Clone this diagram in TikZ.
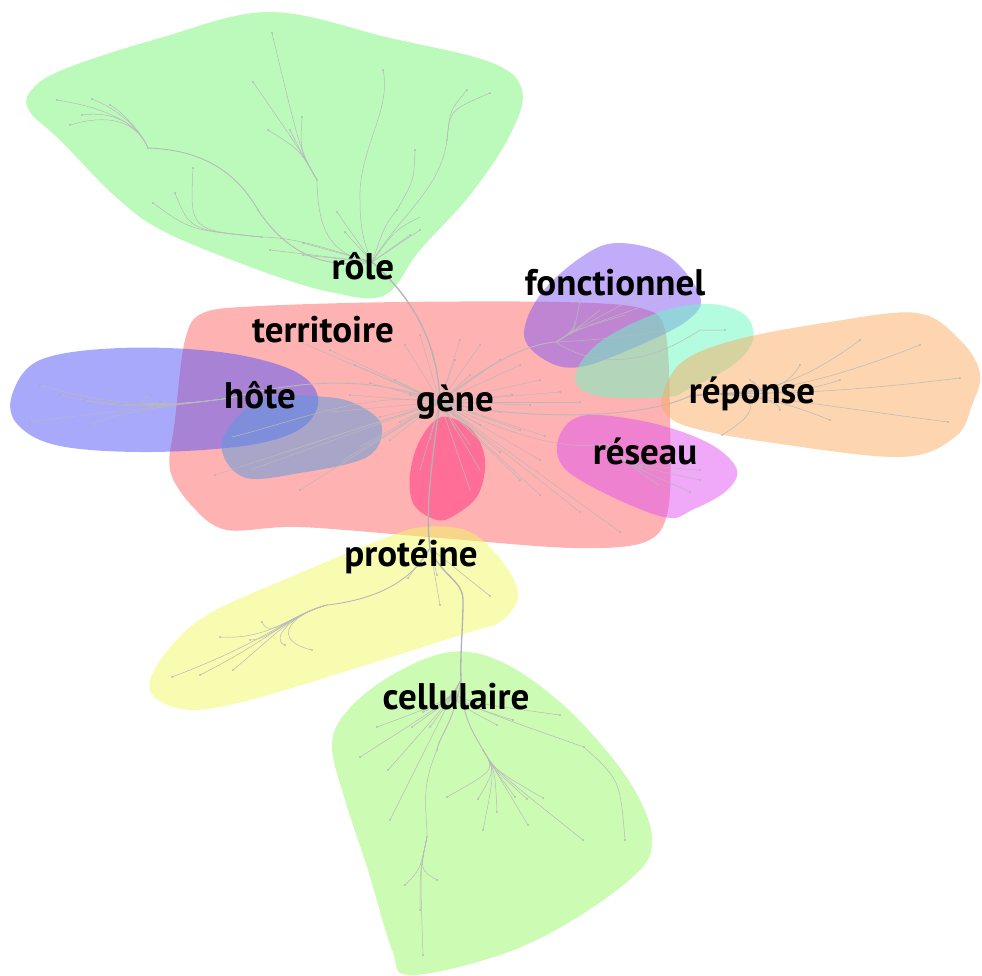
\documentclass[tikz,border=0pt]{standalone}
\usepackage{fontspec}
\setmainfont{PT Sans}
\definecolor{cRole}{RGB}{188,250,188}
\definecolor{cTerr}{RGB}{255,178,178}
\definecolor{cHote}{RGB}{83,83,247}
\definecolor{cGrey}{RGB}{85,154,224}
\definecolor{cPink}{RGB}{255,44,124}
\definecolor{cFonc}{RGB}{131,89,243}
\definecolor{cMint}{RGB}{105,249,193}
\definecolor{cRep}{RGB}{251,171,97}
\definecolor{cRes}{RGB}{225,81,241}
\definecolor{cProt}{RGB}{241,249,97}
\definecolor{cCell}{RGB}{204,252,180}
\tikzset{
  blob/.style={fill=#1, draw=none},
  tblob/.style={fill=#1, fill opacity=0.5, draw=none},
  edge/.style={draw=gray!55, line width=0.5pt},
  trunk/.style={draw=gray!60, line width=1.3pt},
  dot/.style={circle, fill=gray!70, inner sep=0pt, minimum size=1.6pt},
  lab/.style={font=\fontsize{37}{40}\selectfont\bfseries, text=black, inner sep=0pt}
}
\begin{document}
\begin{tikzpicture}[x=1pt,y=-1pt]
\useasboundingbox (0,0) rectangle (982,975);
% ---- blobs ----
\fill[blob=cRole] plot[smooth cycle, tension=0.6] coordinates {(30,92) (62,70) (160,38) (270,12) (390,38) (490,62) (522,90) (510,135) (470,195) (420,250) (385,295) (335,293) (267,273) (167,233) (117,198) (60,140) (30,112)};
\fill[blob=cCell] plot[smooth cycle, tension=0.6] coordinates {(332,745) (348,710) (392,675) (450,652) (502,662) (560,702) (610,755) (640,800) (652,840) (638,872) (573,920) (500,955) (410,975) (392,950) (368,870) (345,800)};
\fill[blob=cTerr] plot[smooth cycle, tension=0.55] coordinates {(203,313) (260,306) (400,302) (560,302) (640,308) (665,330) (670,420) (668,510) (645,542) (573,548) (440,538) (300,527) (227,530) (193,507) (170,470) (175,420) (185,340)};
\fill[tblob=cHote] plot[smooth cycle, tension=0.6] coordinates {(12,395) (40,360) (120,348) (220,352) (292,370) (318,397) (303,427) (250,445) (150,452) (60,446) (18,425)};
\fill[tblob=cGrey] plot[smooth cycle, tension=0.6] coordinates {(222,442) (260,400) (327,397) (362,407) (382,427) (367,457) (300,473) (243,477)};
\fill[tblob=cPink] plot[smooth cycle, tension=0.6] coordinates {(410,475) (420,440) (442,417) (472,430) (485,460) (478,495) (455,515) (437,520) (414,505)};
\fill[tblob=cProt] plot[smooth cycle, tension=0.6] coordinates {(150,680) (172,645) (212,612) (300,573) (380,540) (423,527) (470,532) (505,565) (518,597) (500,622) (470,632) (350,670) (250,700) (193,710) (158,700)};
\fill[tblob=cFonc] plot[smooth cycle, tension=0.6] coordinates {(524,335) (540,295) (580,258) (617,243) (668,256) (700,296) (688,320) (640,345) (580,367) (545,360)};
\fill[tblob=cMint] plot[smooth cycle, tension=0.6] coordinates {(575,377) (600,342) (660,312) (710,304) (745,315) (753,340) (733,365) (690,388) (667,397) (598,396)};
\fill[tblob=cRep] plot[smooth cycle, tension=0.6] coordinates {(662,397) (682,362) (735,340) (830,322) (917,313) (960,340) (980,373) (972,405) (955,437) (900,457) (767,442) (693,428) (667,415)};
\fill[tblob=cRes] plot[smooth cycle, tension=0.6] coordinates {(558,440) (572,420) (600,415) (660,425) (712,445) (737,470) (725,492) (692,510) (670,518) (630,505) (580,480) (560,462)};

% ---- hubs ----
\coordinate (role) at (372,262);
\coordinate (gene) at (440,402);
\coordinate (prot) at (430,548);
\coordinate (grid) at (463,600);
\coordinate (cell) at (461,680);
\coordinate (hote) at (230,398);
\coordinate (fonc) at (556,342);
\coordinate (rep) at (690,396);
\coordinate (res) at (606,444);

% main trunk
\draw[trunk] (role) .. controls (415,300) and (438,345) .. (gene);
\draw[trunk] (gene) .. controls (432,460) and (425,510) .. (prot);
\draw[trunk] (prot) .. controls (440,575) and (463,580) .. (grid) .. controls (463,630) and (460,650) .. (cell);

% ---- rôle branches ----
\node[dot] (mol) at (148,148) {};
\node[dot] (prat) at (258,210) {};
\node[dot] (act) at (317,180) {};
\node[dot] (meta) at (447,140) {};
\node[dot] (degr) at (397,210) {};
\node[dot] (repr) at (262,237) {};
\draw[edge, line width=0.9pt] (mol) .. controls (200,150) and (235,170) .. (prat) .. controls (285,250) and (320,270) .. (role);
\foreach \p in {(57,100),(92,99),(110,105),(82,115),(70,125)}
  { \node[dot] at \p (m) {}; \draw[edge] \p .. controls (120,110) and (140,130) .. (mol); }
\draw[edge] (act) .. controls (318,230) and (330,255) .. (role);
\foreach \p in {(290,130),(302,117),(272,33),(253,82),(268,130)}
  { \node[dot] at \p {}; \draw[edge] \p .. controls (300,150) .. (act); }
\draw[edge] (383,70) .. controls (392,110) and (358,150) .. (360,200) .. controls (360,240) and (368,250) .. (role);
\node[dot] at (383,70) {};
\draw[edge] (meta) .. controls (440,190) and (400,215) .. (role);
\foreach \p in {(467,90),(490,93)} { \node[dot] at \p {}; \draw[edge] \p .. controls (450,110) .. (meta); }
\draw[edge] (415,150) .. controls (414,180) .. (degr);
\node[dot] at (415,150) {};
\draw[edge] (degr) .. controls (385,225) .. (role);
\draw[edge] (420,217) .. controls (395,230) .. (role);
\draw[edge] (repr) .. controls (300,238) and (330,250) .. (role);
\foreach \p in {(153,203),(175,193),(193,168)} { \node[dot] at \p {}; \draw[edge] \p .. controls (190,230) .. (repr); }
\foreach \p in {(270,250),(303,243),(303,255),(337,212),(345,232),(410,235),(420,230)} { \node[dot] at \p {}; \draw[edge] \p -- (role); }

% ---- gène radial edges ----
\foreach \p in {(300,342),(330,350),(355,365),(370,383),(395,380),(405,345),(420,335),(460,340),(480,345),(500,360),(520,365),(540,380),(560,392),(580,402),(530,405),(500,412),(520,430),(545,436),(540,460),(500,452),(480,470),(470,490),(420,470),(390,440),(360,447),(340,462),(380,417),(400,422),(330,412),(285,452),(250,470),(215,475),(300,490),(520,480),(540,495),(580,512),(620,532),(455,360),(470,375),(410,395),(480,425),(456,430),(430,440),(470,445),(512,395),(350,395)}
  { \node[dot] at \p {}; \draw[edge] (gene) -- \p; }

% long branches
\draw[edge, line width=0.9pt] (gene) .. controls (370,375) and (300,380) .. (hote);
\foreach \p in {(60,395),(85,400),(40,385),(30,422),(90,425),(150,395),(160,402)}
  { \node[dot] at \p {}; \draw[edge] (hote) .. controls (180,405) and (120,410) .. \p; }
\draw[edge] (gene) .. controls (370,390) and (300,420) .. (232,437);
\draw[edge, line width=0.9pt] (gene) .. controls (480,370) and (520,345) .. (fonc);
\foreach \p in {(580,300),(600,310),(625,315),(640,295),(670,297),(575,320)}
  { \node[dot] at \p {}; \draw[edge] (fonc) .. controls (575,330) .. \p; }
\draw[edge] (fonc) .. controls (600,340) and (640,335) .. (665,330);
\draw[edge] (fonc) .. controls (590,365) and (640,370) .. (700,330) -- (725,330);
\node[dot] at (725,330) {};
\draw[edge, line width=0.9pt] (gene) .. controls (520,420) and (640,420) .. (rep);
\foreach \p in {(860,340),(920,345),(960,378),(948,422),(830,420),(780,410),(722,435),(800,365),(840,380),(750,380)}
  { \node[dot] at \p {}; \draw[edge] (rep) .. controls (740,390) and (780,400) .. \p; }
\draw[edge] (gene) .. controls (520,440) and (570,450) .. (res);
\foreach \p in {(700,470),(700,480),(660,486),(690,492),(643,468)}
  { \node[dot] at \p {}; \draw[edge] (res) .. controls (630,465) .. \p; }

% ---- protéine branches ----
\node[dot] (fct) at (327,605) {};
\draw[edge, line width=0.9pt] (prot) .. controls (410,585) and (370,600) .. (fct);
\foreach \p in {(220,637),(200,675),(233,670),(172,677),(262,622),(250,640),(285,645),(312,650)}
  { \node[dot] at \p {}; \draw[edge] (fct) .. controls (290,615) and (270,640) .. \p; }
\foreach \p in {(408,578),(440,605),(490,596),(437,575)}
  { \node[dot] at \p {}; \draw[edge] (prot) -- \p; }

% ---- cellulaire branches ----
\node[dot] (metab) at (437,750) {};
\node[dot] (morph) at (483,750) {};
\node[dot] (aide) at (427,837) {};
\draw[edge, line width=0.9pt] (cell) .. controls (455,720) and (440,735) .. (metab);
\draw[edge, line width=0.9pt] (cell) .. controls (462,720) and (475,735) .. (morph);
\draw[edge] (metab) .. controls (420,790) and (427,810) .. (aide);
\foreach \p in {(405,885),(437,880),(420,910),(423,955)}
  { \node[dot] at \p {}; \draw[edge] (aide) .. controls (420,870) .. \p; }
\foreach \p in {(447,797),(478,799),(497,812),(483,830),(515,797),(527,799),(528,825),(543,798),(583,840)}
  { \node[dot] at \p {}; \draw[edge] (morph) .. controls (495,770) .. \p; }
\foreach \p in {(423,712),(377,727),(412,727),(430,727),(497,725),(513,720),(560,715),(584,747),(360,757),(388,770),(390,820)}
  { \node[dot] at \p {}; \draw[edge] (cell) .. controls (450,700) .. \p; }
\draw[edge] (584,747) .. controls (620,780) .. (625,840);
\node[dot] at (625,840) {};

% ---- labels ----
\node[lab] (lrole) at (363,266) {rôle};
\node[lab] (lterr) at (323,330) {territoire};
\node[lab] (lfonc) at (615,283) {fonctionnel};
\node[lab] (lhote) at (260,395) {hôte};
\node[lab] (lgene) at (455,402) {gène};
\node[lab] (lrep) at (752,394) {réponse};
\node[lab] (lres) at (645,451) {réseau};
\node[lab] (lprot) at (411,557) {protéine};
\node[lab] (lcell) at (456,697) {cellulaire};
\end{tikzpicture}
\end{document}
